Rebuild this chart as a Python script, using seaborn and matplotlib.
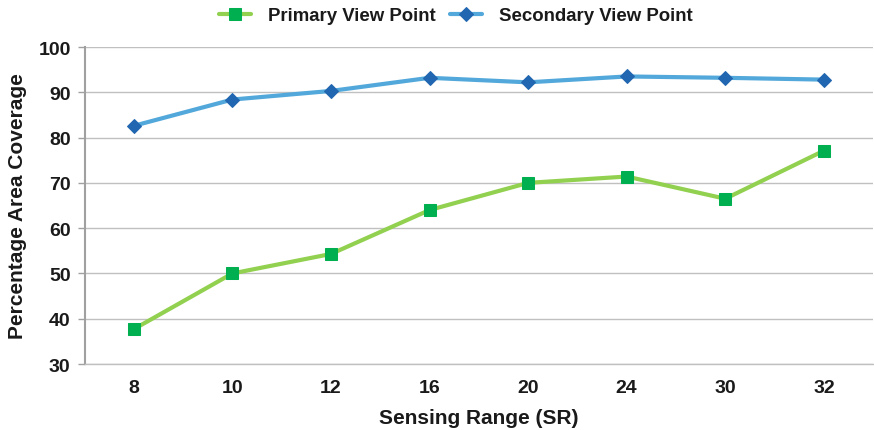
import pandas as pd
import matplotlib
matplotlib.use('Agg')
import matplotlib.pyplot as plt
import seaborn as sns

# data
sensing_range = ['8', '10', '12', '16', '20', '24', '30', '32']
primary = [37.7, 50.0, 54.3, 64.0, 70.0, 71.4, 66.5, 77.1]
secondary = [82.6, 88.4, 90.3, 93.2, 92.2, 93.5, 93.2, 92.8]
y_ticks = [30, 40, 50, 60, 70, 80, 90, 100]

df = pd.DataFrame({'SR': sensing_range, 'Primary View Point': primary,
                   'Secondary View Point': secondary})

sns.set_style('white')
plt.rcParams['font.family'] = ['Liberation Sans', 'DejaVu Sans']
plt.rcParams['font.weight'] = 'bold'
plt.rcParams['text.color'] = '#1A1A1A'
plt.rcParams['axes.labelcolor'] = '#1A1A1A'
plt.rcParams['xtick.labelcolor'] = '#1A1A1A'
plt.rcParams['ytick.labelcolor'] = '#1A1A1A'

fig = plt.figure(figsize=(8.74, 4.31), dpi=100)
ax = fig.add_axes([0.0967, 0.1531, 0.9023, 0.7355])

sns.lineplot(data=df, x='SR', y='Primary View Point', ax=ax, sort=False,
             color='#92D050', linewidth=3, marker='s', markersize=8,
             markerfacecolor='#00B050', markeredgecolor='#00B050',
             label='Primary View Point')
sns.lineplot(data=df, x='SR', y='Secondary View Point', ax=ax, sort=False,
             color='#52A8DA', linewidth=3, marker='D', markersize=7,
             markerfacecolor='#2166B0', markeredgecolor='#2166B0',
             label='Secondary View Point')

ax.set_xlim(-0.5, len(sensing_range) - 0.5)
ax.set_ylim(30, 100)
ax.set_yticks(y_ticks)
ax.yaxis.grid(True, color='#C0C0C0', linewidth=1)
ax.set_axisbelow(True)

for s in ['top', 'right']:
    ax.spines[s].set_visible(False)
ax.spines['left'].set_color('#A0A0A0')
ax.spines['left'].set_linewidth(1.5)
ax.spines['bottom'].set_color('#C0C0C0')
ax.spines['bottom'].set_linewidth(1)

ax.tick_params(axis='y', which='major', left=True, length=5, width=1,
               color='#A0A0A0', labelsize=14, pad=5)
ax.tick_params(axis='x', bottom=False, labelsize=14, pad=7)
for lbl in ax.get_xticklabels() + ax.get_yticklabels():
    lbl.set_fontweight('bold')

ax.set_xlabel('Sensing Range (SR)', fontsize=15, fontweight='bold', labelpad=9)
ax.set_ylabel('Percentage Area Coverage', fontsize=15, fontweight='bold', labelpad=8)

leg = ax.legend(loc='center', bbox_to_anchor=(0.471, 1.098),
                ncol=2, frameon=False, fontsize=13.4, handlelength=1.7,
                columnspacing=0.8, handletextpad=0.9)
for t in leg.get_texts():
    t.set_fontweight('bold')

fig.savefig('out.png', dpi=100)
